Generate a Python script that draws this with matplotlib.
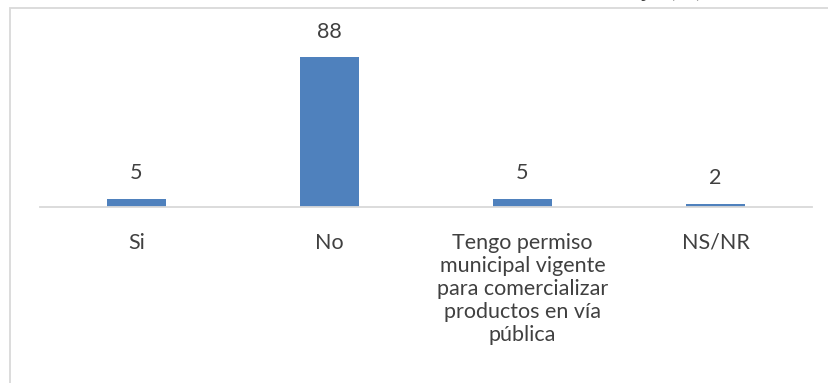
import matplotlib
matplotlib.use("Agg")
import matplotlib.pyplot as plt
from matplotlib.patches import Rectangle

categories = ["Si", "No",
              "Tengo permiso\nmunicipal vigente\npara comercializar\nproductos en vía\npública",
              "NS/NR"]
values = [5, 88, 5, 2]
title = "Permiso de trabajo (%)"

plt.rcParams['font.family'] = ['Lato', 'DejaVu Sans']
text_color = "#404040"
bar_color = "#4f81bd"
grid_color = "#d9d9d9"

W, H = 829, 383
fig = plt.figure(figsize=(W/100, H/100), dpi=100)

# chart border (partially visible)
fig.patches.append(Rectangle((10/W, -0.1), 1.2, (H-8)/H + 0.1, transform=fig.transFigure,
                             fill=False, edgecolor=grid_color, linewidth=1.3))

# clipped title (only descenders visible in the reference)
fig.text(703/W, 1 + 3/H, title, ha='right', va='baseline', fontsize=18, color=text_color)

ax = fig.add_axes([40/W, (H-207)/H, (812-40)/W, (207-37)/H])
x = range(len(categories))
ax.bar(x, values, width=0.31, color=bar_color)
ax.set_xlim(-0.5, len(categories)-0.5)
ax.set_ylim(0, 100)
for i, v in enumerate(values):
    ax.annotate(f"{v}", (i, v), xytext=(0, 18.5), textcoords='offset points',
                ha='center', va='center', fontsize=15.5, color=text_color)

ax.set_xticks(list(x))
ax.set_xticklabels(categories, fontsize=15.5, color=text_color, linespacing=1.2, va='top')
ax.tick_params(axis='x', length=0, pad=18.5)
ax.set_yticks([])
for s in ['top', 'right', 'left']:
    ax.spines[s].set_visible(False)
ax.spines['bottom'].set_color(grid_color)
ax.spines['bottom'].set_linewidth(1.3)
ax.set_facecolor('none')

fig.savefig("out.png", dpi=100)
